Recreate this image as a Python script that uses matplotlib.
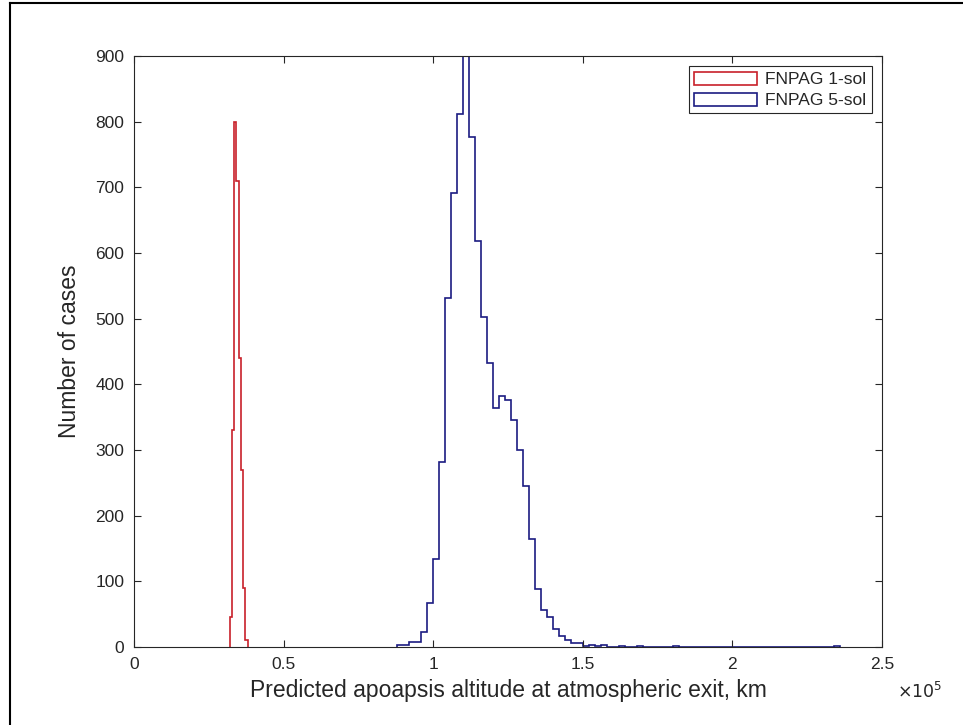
import numpy as np
import matplotlib.pyplot as plt
from matplotlib.ticker import FuncFormatter
from matplotlib.patches import Patch
from matplotlib.lines import Line2D

# histogram counts (apoapsis altitude in km)
sol1_start = 32000
sol1_width = 750
sol1_counts = [45, 330, 800, 710, 440, 270, 90, 10]

sol5_start = 88000
sol5_width = 2000
sol5_counts = [3, 3, 8, 8, 23, 67, 134, 282, 532, 691,
               811, 900, 777, 618, 503, 432, 364, 382, 376, 345,
               300, 245, 165, 88, 56, 45, 27, 17, 10, 6,
               6, 2, 3, 1, 3, 0, 0, 2, 0, 0,
               2, 0, 0, 0, 0, 0, 2, 0, 0, 0,
               0, 0, 0, 0, 0, 0, 0, 0, 0, 0,
               0, 0, 0, 0, 0, 0, 0, 0, 0, 0,
               0, 0, 0, 1]

labels = ['FNPAG 1-sol', 'FNPAG 5-sol']
x_ticks = [0, 50000, 100000, 150000, 200000, 250000]
y_ticks = [0, 100, 200, 300, 400, 500, 600, 700, 800, 900]

plt.rcParams['font.family'] = ['Liberation Sans', 'DejaVu Sans']
text_col = '#262626'
red = '#c8202a'
blue = '#1b1b82'

fig = plt.figure(figsize=(9.63, 7.25), dpi=100)
ax = fig.add_axes([134 / 963, 1 - 647 / 725, 748 / 963, 591 / 725])

e1 = sol1_start + sol1_width * np.arange(len(sol1_counts) + 1)
e5 = sol5_start + sol5_width * np.arange(len(sol5_counts) + 1)
ax.stairs(sol1_counts, e1, color=red, linewidth=1.2)
ax.stairs(sol5_counts, e5, color=blue, linewidth=1.2)

ax.set_xlim(0, 250000)
ax.set_ylim(0, 900)
ax.set_xticks(x_ticks)
ax.set_yticks(y_ticks)
ax.xaxis.set_major_formatter(FuncFormatter(lambda v, p: f"{v / 1e5:g}"))
ax.tick_params(direction='in', length=5, width=0.8, top=True, right=True,
               labelsize=12.5, colors=text_col, pad=7)
for s in ax.spines.values():
    s.set_linewidth(0.8)
    s.set_color(text_col)

ax.set_xlabel('Predicted apoapsis altitude at atmospheric exit, km',
              fontsize=16.5, color=text_col, labelpad=5)
ax.set_ylabel('Number of cases', fontsize=16.5, color=text_col, labelpad=10)
ax.text(1.02, -0.075, r'$\times10^{5}$', transform=ax.transAxes,
        fontsize=12.5, color=text_col, ha='left', va='center')

# legend with box-shaped markers like the histogram patches
handles = [Patch(facecolor='white', edgecolor=red, linewidth=1.2),
           Patch(facecolor='white', edgecolor=blue, linewidth=1.2)]
leg = ax.legend(handles, labels, loc='upper right', fontsize=12.5,
                frameon=True, fancybox=False, edgecolor=text_col,
                framealpha=1, handlelength=3.6, handleheight=0.8,
                handletextpad=0.5, borderaxespad=0.6, labelspacing=0.3,
                borderpad=0.3)
leg.get_frame().set_linewidth(0.8)
for t in leg.get_texts():
    t.set_color(text_col)

# left and top edge of the surrounding frame
fig.add_artist(Line2D([10 / 963, 10 / 963], [0, 1 - 3 / 725],
                      transform=fig.transFigure, color='black', linewidth=1.5))
fig.add_artist(Line2D([10 / 963, 1], [1 - 3 / 725, 1 - 3 / 725],
                      transform=fig.transFigure, color='black', linewidth=1.5))

fig.savefig('out.png', dpi=100)
